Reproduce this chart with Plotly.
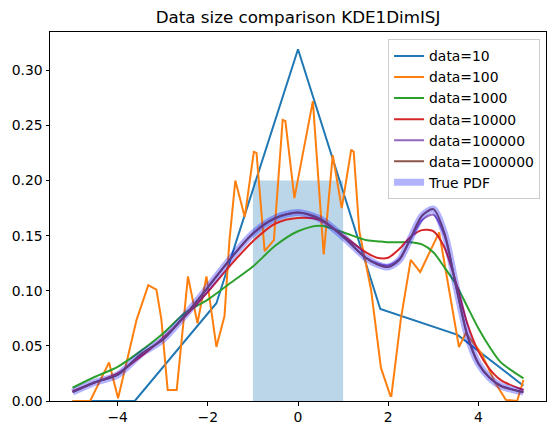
import plotly.graph_objects as go

# datos
x_data10 = [-5.0, -3.62, -1.81, 0.0, 1.825, 3.54, 5.0]
y_data10 = [0.0, 0.0, 0.0887, 0.319, 0.0835, 0.060, 0.0139]

x_data100 = [-5.0, -4.61, -4.19, -3.99, -3.58, -3.32, -3.14, -3.03, -2.89, -2.69,
             -2.44, -2.23, -2.03, -1.81, -1.63, -1.52, -1.39, -1.18, -0.98, -0.92,
             -0.74, -0.535, -0.34, -0.28, -0.08, 0.33, 0.57, 0.77, 0.97, 1.18,
             1.235, 1.36, 1.62, 1.84, 2.05, 2.07, 2.28, 2.50, 2.71, 3.13,
             3.57, 3.72, 4.07, 4.38, 4.61, 4.86, 5.0]
y_data100 = [0.0, 0.0, 0.035, 0.0025, 0.0736, 0.105, 0.101, 0.074, 0.010, 0.010,
             0.113, 0.0705, 0.113, 0.049, 0.077, 0.146, 0.200, 0.167, 0.226, 0.225,
             0.136, 0.146, 0.255, 0.254, 0.184, 0.272, 0.133, 0.223, 0.175, 0.228,
             0.226, 0.154, 0.101, 0.030, 0.0045, 0.0045, 0.074, 0.128, 0.117, 0.153,
             0.049, 0.0615, 0.043, 0.016, 0.001, 0.0, 0.019]

x_smooth = [-5.0, -4.5, -4.0, -3.5, -3.0, -2.5, -2.0, -1.5, -1.0, -0.5, 0.0, 0.5,
            1.0, 1.5, 1.75, 2.0, 2.25, 2.5, 2.75, 3.0, 3.25, 3.5, 3.75, 4.0,
            4.25, 4.5, 5.0]

y_data1000 = [0.012, 0.022, 0.031, 0.045, 0.061, 0.080, 0.092, 0.107, 0.122, 0.141,
              0.154, 0.159, 0.153, 0.146, 0.145, 0.144, 0.144, 0.144, 0.142, 0.135,
              0.121, 0.106, 0.086, 0.066, 0.049, 0.035, 0.0206]
y_data10000 = [0.009, 0.017, 0.025, 0.040, 0.057, 0.077, 0.099, 0.123, 0.145, 0.161,
               0.166, 0.164, 0.150, 0.135, 0.130, 0.130, 0.138, 0.149, 0.155, 0.154,
               0.139, 0.108, 0.071, 0.045, 0.029, 0.019, 0.010]
y_data100000 = [0.008, 0.017, 0.024, 0.042, 0.056, 0.078, 0.103, 0.129, 0.152, 0.166,
                0.171, 0.165, 0.149, 0.130, 0.125, 0.123, 0.129, 0.147, 0.164, 0.169,
                0.150, 0.105, 0.061, 0.034, 0.021, 0.014, 0.008]
y_data1000000 = [0.008, 0.017, 0.0236, 0.042, 0.0555, 0.078, 0.103, 0.129, 0.152, 0.166,
                 0.171, 0.165, 0.149, 0.130, 0.124, 0.1215, 0.128, 0.148, 0.168, 0.174,
                 0.152, 0.105, 0.060, 0.034, 0.021, 0.0136, 0.008]
y_true_pdf = [0.008, 0.017, 0.0236, 0.042, 0.0555, 0.078, 0.103, 0.129, 0.152, 0.166,
              0.171, 0.165, 0.149, 0.130, 0.124, 0.1215, 0.128, 0.148, 0.168, 0.174,
              0.152, 0.105, 0.060, 0.034, 0.021, 0.0136, 0.008]

uniform_edges = [-1.0, 1.0]
uniform_density = [0.2]

y_ticks = [0.0, 0.05, 0.10, 0.15, 0.20, 0.25, 0.30]
x_ticks = [-4, -2, 0, 2, 4]

fig = go.Figure()

# rectangulo de la uniforme
fig.add_trace(go.Bar(
    x=[(uniform_edges[0] + uniform_edges[1]) / 2], y=uniform_density,
    width=[uniform_edges[1] - uniform_edges[0]],
    marker=dict(color="rgba(31,119,180,0.3)", line=dict(width=0)),
    showlegend=False, hoverinfo="skip",
))

fig.add_trace(go.Scatter(x=x_data10, y=y_data10, mode="lines", name="data=10",
                         line=dict(color="#1f77b4", width=2)))
fig.add_trace(go.Scatter(x=x_data100, y=y_data100, mode="lines", name="data=100",
                         line=dict(color="#ff7f0e", width=2)))

series = [
    ("data=1000", y_data1000, "#2ca02c"),
    ("data=10000", y_data10000, "#d62728"),
    ("data=100000", y_data100000, "#9467bd"),
    ("data=1000000", y_data1000000, "#8c564b"),
]
for nombre, ys, color in series:
    fig.add_trace(go.Scatter(x=x_smooth, y=ys, mode="lines", name=nombre,
                             line=dict(color=color, width=2, shape="spline", smoothing=0.8)))

fig.add_trace(go.Scatter(x=x_smooth, y=y_true_pdf, mode="lines", name="True PDF",
                         line=dict(color="rgba(0,0,255,0.3)", width=7,
                                   shape="spline", smoothing=0.8)))

ejes = dict(showline=True, mirror=True, linecolor="black", linewidth=1,
            showgrid=False, zeroline=False, ticks="outside", ticklen=3.5,
            tickwidth=0.8, tickcolor="black")

fig.update_layout(
    width=556, height=435,
    margin=dict(l=50, r=10, t=32, b=34),
    plot_bgcolor="white", paper_bgcolor="white",
    font=dict(family="DejaVu Sans", size=13.9, color="black"),
    title=dict(text="Data size comparison KDE1DimISJ", x=0.5, xref="paper",
               y=0.961, yref="container", yanchor="middle",
               font=dict(size=16.7)),
    xaxis=dict(range=[-5.5, 5.5], tickvals=x_ticks, **ejes),
    yaxis=dict(range=[0, 0.3347], tickvals=y_ticks, tickformat=".2f", **ejes),
    legend=dict(x=0.988, y=0.98, xanchor="right", yanchor="top",
                bgcolor="rgba(255,255,255,0.8)", bordercolor="#cccccc",
                borderwidth=1, font=dict(size=13.9)),
    barmode="overlay",
    showlegend=True,
)

# sin el margen por defecto del body y sin la barra de herramientas
fig.write_html("out.html", config={"displayModeBar": False},
               post_script="document.body.style.margin='0';")
